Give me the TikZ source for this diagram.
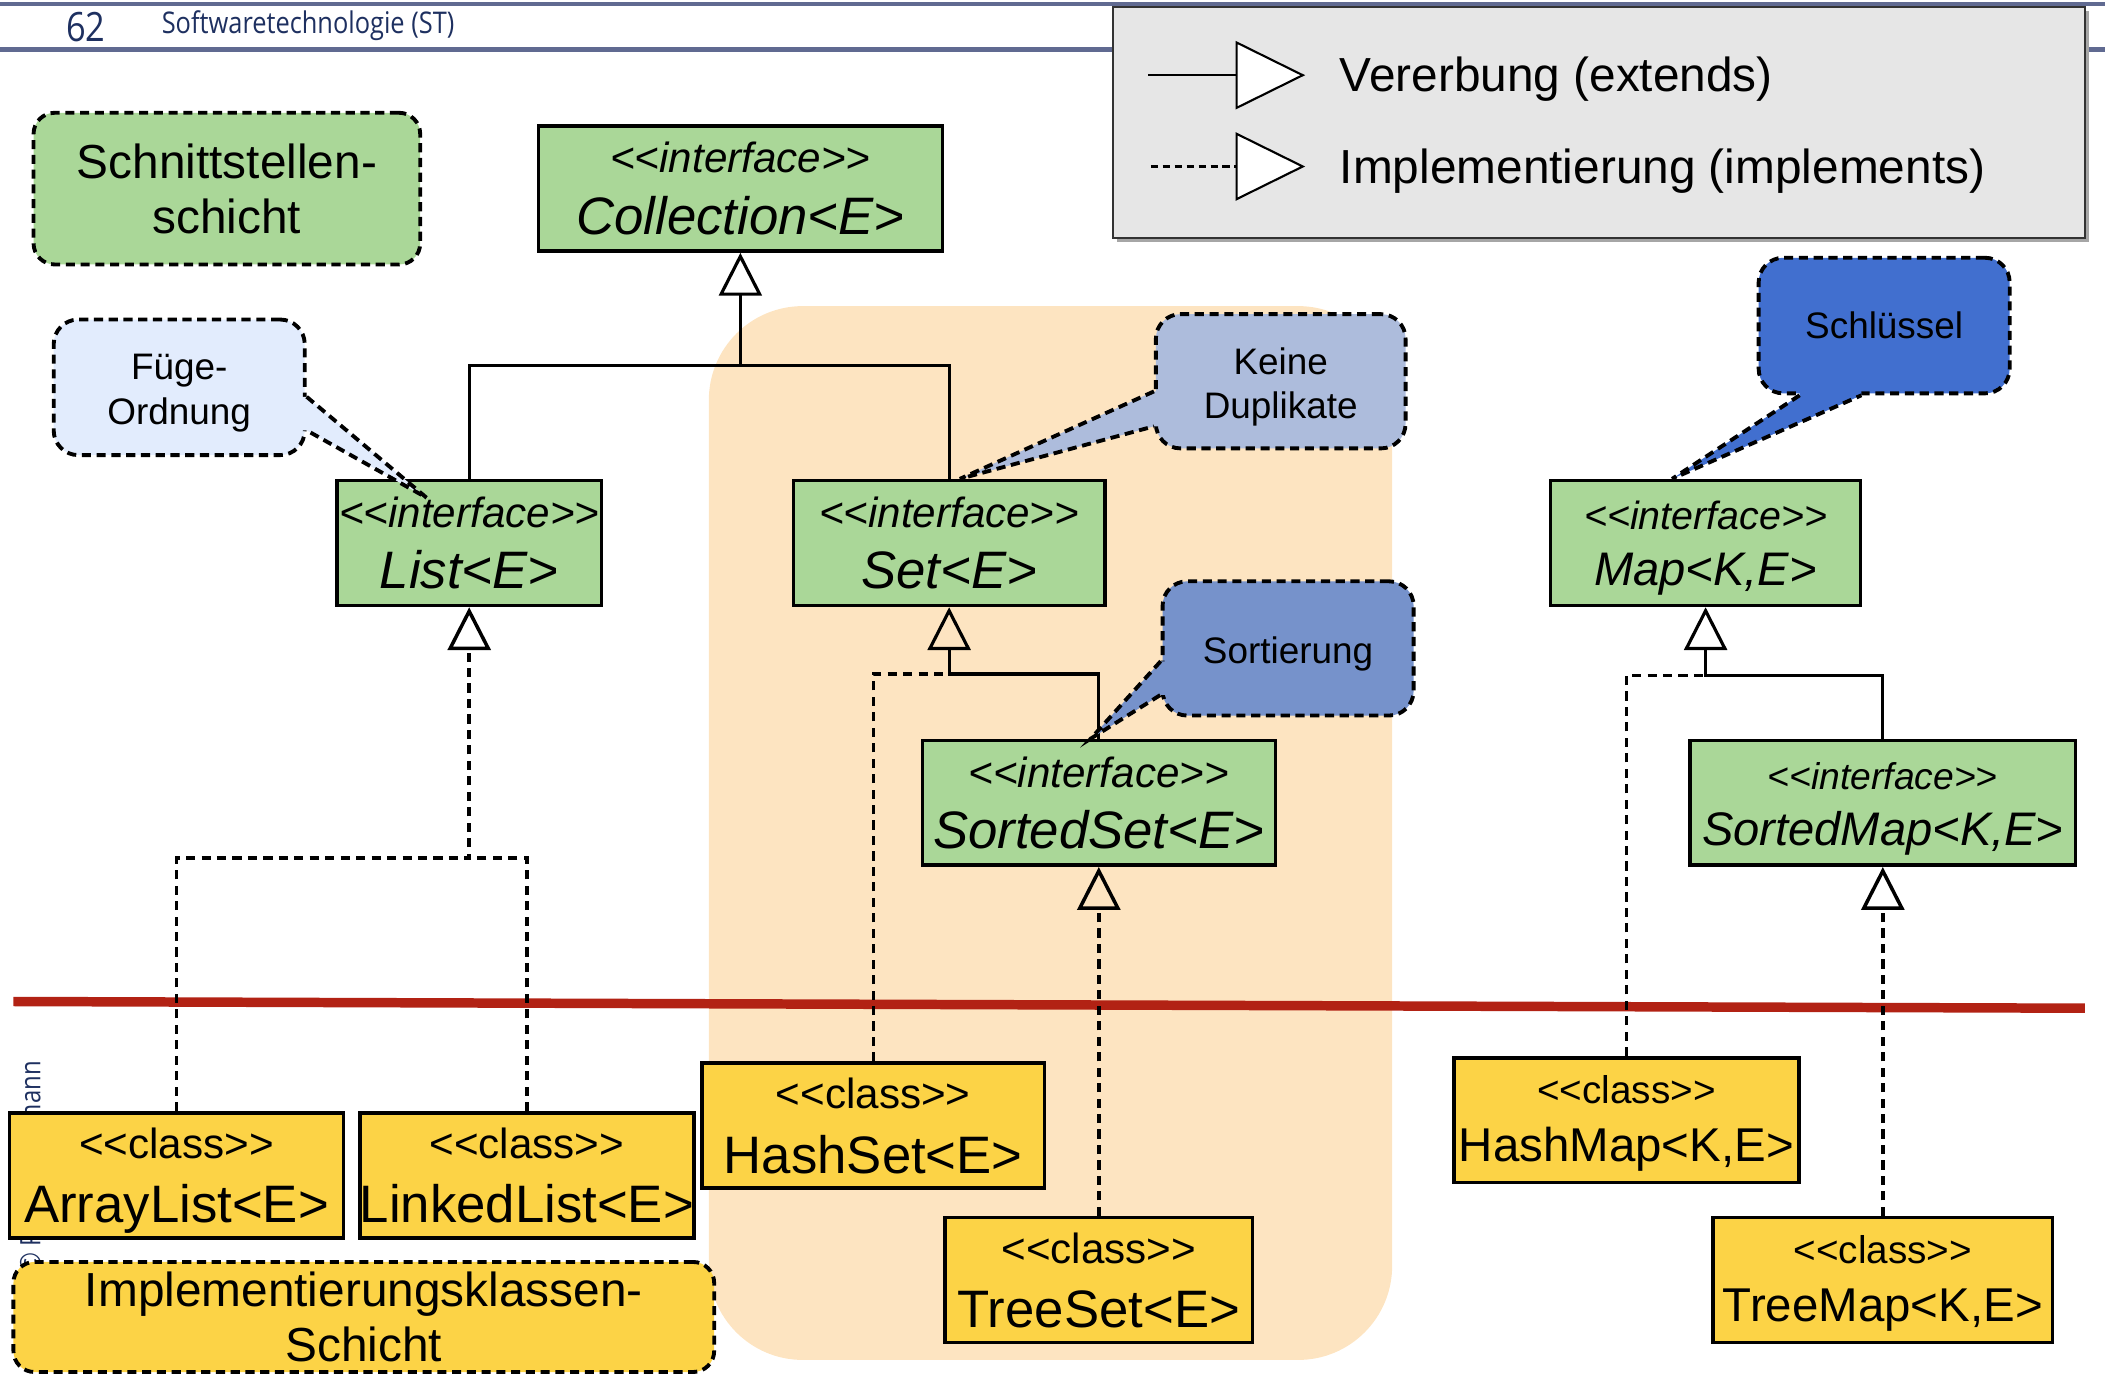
\documentclass[tikz,border=0pt]{standalone}
\usepackage{fontspec}
\setmainfont{Liberation Sans}
\newfontfamily\hdfont[FakeStretch=0.85]{Open Sans}
\usetikzlibrary{positioning,arrows.meta,calc}
\definecolor{ifgreen}{RGB}{170,215,152}
\definecolor{clsyellow}{RGB}{252,211,70}
\definecolor{setpeach}{RGB}{253,228,193}
\definecolor{fuegefill}{RGB}{226,236,253}
\definecolor{dupfill}{RGB}{173,188,220}
\definecolor{sortfill}{RGB}{118,146,203}
\definecolor{keyfill}{RGB}{65,111,207}
\definecolor{layerred}{RGB}{178,34,20}
\definecolor{hdline}{RGB}{96,106,145}
\definecolor{hdtext}{RGB}{30,48,96}
\definecolor{legfill}{RGB}{230,230,230}
\newcommand{\pxu}{0.013425cm}
\newcommand{\stereo}[1]{<{}<#1>{}>}
\tikzset{
  ifc/.style={draw, line width=1pt, fill=ifgreen, inner sep=0pt, align=center, minimum height=93*\pxu, font=\fontsize{15}{17.5}\selectfont\itshape},
  ifcm/.style={ifc, text height=24.4pt, text depth=0pt, font=\fontsize{13.4}{16}\selectfont\itshape},
  cls/.style={draw, line width=1pt, fill=clsyellow, inner sep=0pt, align=center, minimum height=93*\pxu, text height=27pt, text depth=0pt, font=\fontsize{15}{18.3}\selectfont},
  clsm/.style={cls, text height=23.7pt, font=\fontsize{13.5}{16.7}\selectfont},
  ndash/.style={line width=1.1pt, dash pattern=on 2.6pt off 1.6pt},
  layer/.style={draw, ndash, rounded corners=6pt, inner sep=0pt, align=center, font=\fontsize{13.6}{15.6}\selectfont},
  note/.style={draw, ndash, rounded corners=7pt, inner sep=0pt, align=center, minimum width=187*\pxu, minimum height=101*\pxu, font=\fontsize{10.5}{12.6}\selectfont},
  ln/.style={line width=0.9pt},
  impl/.style={line width=1pt, dash pattern=on 2.6pt off 1.8pt},
  ext/.style={ln, -{Triangle[open, length=12.2pt, width=12.2pt]}},
  impla/.style={impl, -{Triangle[open, length=12.2pt, width=12.2pt]}},
  lgtip/.style={line width=0.6pt, -{Triangle[fill=white, length=19.8pt, width=19.4pt]}},
  lgtext/.style={font=\fontsize{13.6}{16}\selectfont, inner sep=0pt},
}
\begin{document}
\begin{tikzpicture}[x=0.013425cm, y=-0.013425cm]
\useasboundingbox (0,0) rectangle (1568,1024);
% slide header
\draw[hdline, line width=1.3pt] (0,3) -- (1568,3);
\draw[hdline, line width=1.3pt] (0,37) -- (1568,37);
\node[text=hdtext, font=\hdfont\fontsize{11.5}{12}\selectfont, inner sep=0pt] (pgno) at (64,20) {62};
\node[text=hdtext, font=\hdfont\fontsize{8.5}{9}\selectfont, inner sep=0pt, anchor=west] (title) at (120,19) {Softwaretechnologie (ST)};
\node[text=hdtext, font=\hdfont\fontsize{8}{9}\selectfont, inner sep=0pt, rotate=90, anchor=base east] (copy) at (30,790) {© Prof. U. Aßmann};
% Set group and layer border
\fill[setpeach, rounded corners=0.94cm] (528,228) rectangle (1037,1013);
\draw[layerred, line width=2.7pt] (10,746) -- (1553,751);
% interfaces
\node[layer, fill=ifgreen, minimum width=288*\pxu, minimum height=113*\pxu] (ifl) at (169,140.5) {Schnittstellen-\\schicht};
\node[ifc, minimum width=301*\pxu] (Coll) at (551.5,140.5) {{\fontsize{12}{17.5}\selectfont\stereo{interface}}\\Collection<E>};
\node[ifc, minimum width=197*\pxu] (List) at (349.5,404.5) {{\fontsize{12}{17.5}\selectfont\stereo{interface}}\\List<E>};
\node[ifc, minimum width=232*\pxu] (Set) at (707,404.5) {{\fontsize{12}{17.5}\selectfont\stereo{interface}}\\Set<E>};
\node[ifc, minimum width=263*\pxu] (SSet) at (818.5,598) {{\fontsize{12}{17.5}\selectfont\stereo{interface}}\\SortedSet<E>};
\node[ifcm, minimum width=231*\pxu] (Map) at (1270.5,404.5) {{\fontsize{11.2}{16}\selectfont\stereo{interface}}\\Map<K,E>};
\node[ifcm, minimum width=287*\pxu] (SMap) at (1402.5,598) {{\fontsize{10.6}{16}\selectfont\stereo{interface}}\\SortedMap<K,E>};
% classes
\node[cls, minimum width=249*\pxu] (AL) at (131.5,875.5) {{\fontsize{12}{18.3}\selectfont\stereo{class}}\\ArrayList<E>};
\node[cls, minimum width=249*\pxu] (LL) at (392.5,875.5) {{\fontsize{12}{18.3}\selectfont\stereo{class}}\\LinkedList<E>};
\node[cls, minimum width=255*\pxu] (HSet) at (650.5,838.5) {{\fontsize{12}{18.3}\selectfont\stereo{class}}\\HashSet<E>};
\node[cls, minimum width=229*\pxu] (TSet) at (818.5,953.5) {{\fontsize{12}{18.3}\selectfont\stereo{class}}\\TreeSet<E>};
\node[clsm, minimum width=257*\pxu] (HMap) at (1211.5,834.5) {{\fontsize{11}{16.7}\selectfont\stereo{class}}\\HashMap<K,E>};
\node[clsm, minimum width=253*\pxu] (TMap) at (1402.5,953.5) {{\fontsize{11}{16.7}\selectfont\stereo{class}}\\TreeMap<K,E>};
\node[layer, fill=clsyellow, minimum width=522*\pxu, minimum height=82*\pxu] (ikl) at (271,981) {Implementierungsklassen-\\Schicht};
% extends / implements
\coordinate (cj) at (551.5,272);
\draw[ext] (List.north) |- (cj) -- (Coll.south);
\draw[ln] (Set.north) |- (cj);
\coordinate (lj) at (349.5,639);
\draw[impla] (AL.north) |- (lj) -- (List.south);
\draw[impl] (LL.north) |- (lj);
\coordinate (sj) at (707,502);
\draw[ext] (SSet.north) |- (sj) -- (Set.south);
\draw[impl] (HSet.north) |- (sj);
\draw[impla] (TSet.north) -- (SSet.south);
\coordinate (mj) at (1270.5,503);
\draw[ext] (SMap.north) |- (mj) -- (Map.south);
\draw[impl] (HMap.north) |- (mj);
\draw[impla] (TMap.north) -- (SMap.south);
% callouts
\node[note, fill=fuegefill, text height=20.9pt, text depth=0pt] (fuege) at (133.5,288.5) {Füge-\\Ordnung};
\coordinate (fuegetip) at ($(List.north west)+(68,14)$);
\fill[fuegefill] ($(fuege.north east)+(0,59)$) -- (fuegetip) -- ($(fuege.north east)+(0,84)$) -- ($(fuege.north east)+(-5,84)$) -- ($(fuege.north east)+(-5,59)$) -- cycle;
\draw[ndash] ($(fuege.north east)+(0,59)$) -- (fuegetip) -- ($(fuege.north east)+(0,84)$);
\node[note, fill=dupfill, text height=21.1pt, text depth=0pt, minimum width=186*\pxu, minimum height=100*\pxu] (dup) at (954,284) {Keine\\Duplikate};
\coordinate (duptip) at ($(Set.north)+(8,0)$);
\fill[dupfill] ($(dup.north west)+(0,59)$) -- (duptip) -- ($(dup.north west)+(0,85)$) -- ($(dup.north west)+(5,85)$) -- ($(dup.north west)+(5,59)$) -- cycle;
\draw[ndash] ($(dup.north west)+(0,59)$) -- (duptip) -- ($(dup.north west)+(0,85)$);
\node[note, fill=sortfill, text height=10.5pt, minimum height=100*\pxu] (sort) at (959.5,483) {Sortierung};
\coordinate (sorttip) at ($(SSet.north)+(-6,0)$);
\fill[sortfill] ($(sort.north west)+(0,61)$) -- (sorttip) -- ($(sort.north west)+(0,86)$) -- ($(sort.north west)+(5,86)$) -- ($(sort.north west)+(5,61)$) -- cycle;
\draw[ndash] ($(sort.north west)+(0,61)$) -- (sorttip) -- ($(sort.north west)+(0,86)$);
\node[note, fill=keyfill] (key) at (1403.5,242.5) {Schlüssel};
\coordinate (keytip) at ($(Map.north)+(-25,0)$);
\fill[keyfill] ($(key.south west)+(32,0)$) -- (keytip) -- ($(key.south west)+(78,0)$) -- ($(key.south west)+(78,-5)$) -- ($(key.south west)+(32,-5)$) -- cycle;
\draw[ndash] ($(key.south west)+(32,0)$) -- (keytip) -- ($(key.south west)+(78,0)$);
% legend
\fill[gray!70] (832,8) rectangle (1556,180);
\node[draw=black!80, fill=legfill, line width=0.6pt, minimum width=724*\pxu, minimum height=172*\pxu, inner sep=0pt] (legend) at (1191,91) {};
\coordinate (e1) at ($(legend.west)+(27,-35)$);
\coordinate (e2) at ($(legend.west)+(144,-35)$);
\draw[lgtip] (e1) -- (e2);
\node[lgtext, right=3.4mm of e2, yshift=-1.2pt] (lgext) {Vererbung (extends)};
\coordinate (i1) at ($(legend.west)+(29,33)$);
\coordinate (i2) at ($(legend.west)+(144,33)$);
\draw[lgtip, dash pattern=on 2pt off 1.4pt] (i1) -- (i2);
\node[lgtext, right=3.4mm of i2, yshift=-1.2pt] (lgimpl) {Implementierung (implements)};
\end{tikzpicture}
\end{document}
